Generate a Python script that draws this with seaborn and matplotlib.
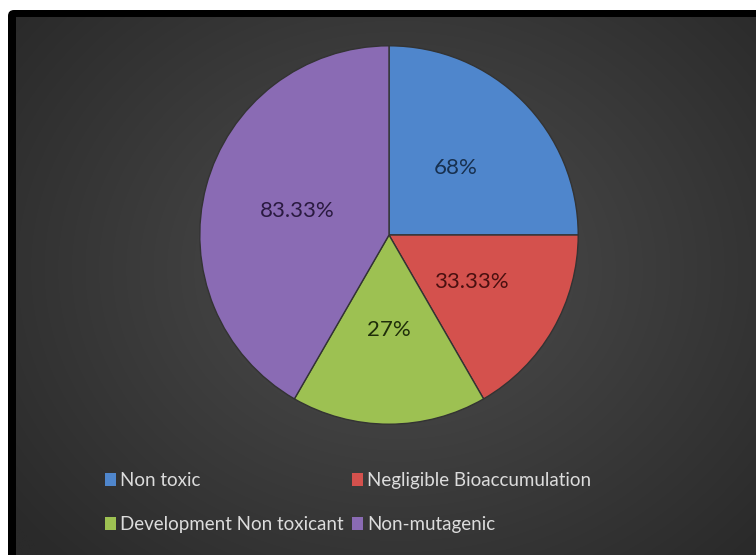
import numpy as np
import matplotlib
matplotlib.use("Agg")
import matplotlib.pyplot as plt
from matplotlib.patches import Patch, FancyBboxPatch
import seaborn as sns

# ---- data ----
categories = ["Non toxic", "Negligible Bioaccumulation",
              "Development Non toxicant", "Non-mutagenic"]
slice_values = [50, 33.33, 33.33, 83.33]          # slice sizes as drawn
label_texts = ["68%", "33.33%", "27%", "83.33%"]  # data labels shown
colors = ["#4f86cc", "#d4514d", "#9dc152", "#8a6bb4"]
label_colors = ["#17304f", "#4a1010", "#1f2e0a", "#2a1a40"]

sns.set_theme(style="dark")
plt.rcParams["font.family"] = ["Lato", "DejaVu Sans"]

W, H = 756, 555
fig = plt.figure(figsize=(W / 100, H / 100), dpi=100, facecolor="white")

# background frame with radial gradient
bg = fig.add_axes([0, 0, 1, 1])
bg.set_xlim(0, W)
bg.set_ylim(H, 0)
bg.axis("off")
bg.add_patch(FancyBboxPatch((8, 10), W + 20, H + 20,
                            boxstyle="round,pad=0,rounding_size=6",
                            facecolor="black", edgecolor="none"))
yy, xx = np.mgrid[0:H, 0:W]
d = np.sqrt(((xx - 390) / 500.0) ** 2 + ((yy - 260) / 420.0) ** 2)
d = np.clip(d, 0, 1)
c0 = np.array([0x4e, 0x4e, 0x4e]) / 255.0
c1 = np.array([0x2a, 0x2a, 0x2a]) / 255.0
img = c0[None, None, :] * (1 - d[..., None]) + c1[None, None, :] * d[..., None]
bg.imshow(img, extent=(16, W, H, 17), aspect="auto", zorder=2)

# pie
cx, cy, r = 389, 235, 193
ax = fig.add_axes([(cx - r) / W, (H - cy - r) / H, 2 * r / W, 2 * r / H])
ax.set_facecolor("none")
wedges, texts = ax.pie(slice_values, labels=label_texts, colors=colors,
                       startangle=90, counterclock=False, radius=1.0,
                       labeldistance=0.5,
                       wedgeprops=dict(edgecolor="#333333", linewidth=1.0))
for t, lc in zip(texts, label_colors):
    t.set_ha("center")
    t.set_va("center")
    t.set_fontsize(16)
    t.set_color(lc)
ax.set_xlim(-1.02, 1.02)
ax.set_ylim(-1.02, 1.02)
ax.set_aspect("equal")
ax.axis("off")

# legend laid out row by row (2 columns)
order = [0, 2, 1, 3]
handles = [Patch(facecolor=colors[i], edgecolor="none") for i in order]
labels = [categories[i] for i in order]
leg = fig.legend(handles, labels, ncol=2, loc="upper left",
                 bbox_to_anchor=(96 / W, 1 - 463 / H), frameon=False,
                 fontsize=13.5, handlelength=0.55, handleheight=0.7,
                 handletextpad=0.25, columnspacing=0.45, labelspacing=1.4,
                 borderpad=0)
for t in leg.get_texts():
    t.set_color("#dcdcdc")

fig.savefig("out.png", dpi=100, facecolor="white")
